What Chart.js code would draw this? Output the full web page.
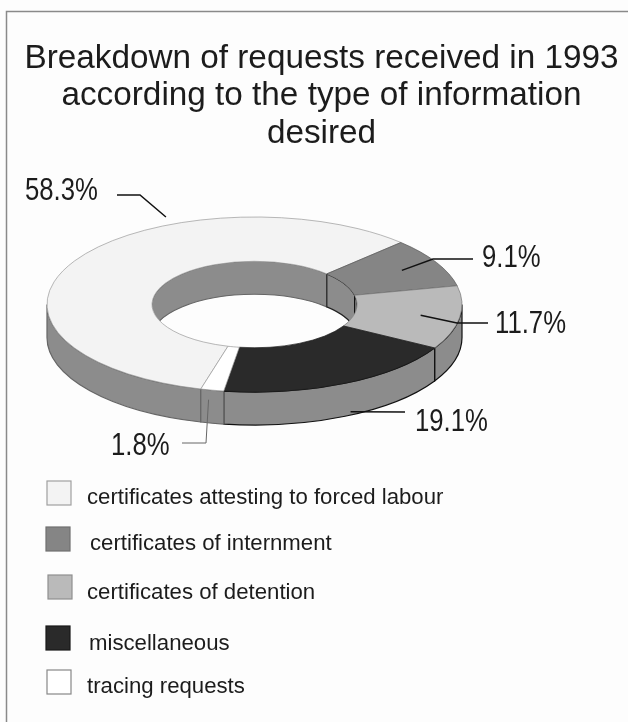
<!DOCTYPE html>
<html>
<head>
<meta charset="utf-8">
<style>
	html, body { margin: 0; padding: 0; background: #fdfdfd; }
	canvas { display: block; }
</style>
<script src="https://cdn.jsdelivr.net/npm/chart.js@4/dist/chart.umd.min.js"></script>
</head>
<body>
<canvas id="chartjs-canvas" width="628" height="722"></canvas>
<script>
const titleLines = ['Breakdown of requests received in 1993', 'according to the type of information', 'desired'];
const categories = ['certificates attesting to forced labour', 'certificates of internment', 'certificates of detention', 'miscellaneous', 'tracing requests'];
const shares = [58.3, 9.1, 11.7, 19.1, 1.8];

const sliceColors = ['#f3f3f3', '#858585', '#bababa', '#2a2a2a', '#ffffff'];
const sliceBorders = ['#9a9a9a', '#555555', '#777777', '#1a1a1a', '#999999'];
const wallBorders = ['#666666', '#222222', '#111111', '#111111', '#666666'];
const swatchBorders = ['#a0a0a0', '#707070', '#909090', '#1a1a1a', '#888888'];
const WALL_COLOR = '#8c8c8c';
const FONT = '"Liberation Sans", Arial, sans-serif';

// where the flattened ring ends up on the page
const ring = { x: 254.5, y: 304.5, squash: 0.4217, depth: 33 };

const legendRows = [
	{ box: [47, 481], text: [87, 504] },
	{ box: [46, 527], text: [90, 550] },
	{ box: [48, 575], text: [87, 599] },
	{ box: [46, 626], text: [89, 650] },
	{ box: [47, 670], text: [87, 693] }
];

// along = fraction of the slice's sweep, radial = fraction of outer radius
const callouts = [
	{ along: 0.676, radial: 1.087, wall: 0, path: [[140, 195], [117, 195]], text: [25, 200], width: 1.5, color: '#111' },
	{ along: 0.5, radial: 0.81, wall: 0, path: [[433, 259], [473, 259]], text: [482, 267], width: 1.5, color: '#111' },
	{ along: 0.5, radial: 0.81, wall: 0, path: [[457, 323], [488, 323]], text: [495, 333], width: 1.5, color: '#111' },
	{ along: 0.46, radial: 0.967, wall: 1, path: [[405, 412]], text: [415, 431], width: 1.5, color: '#111' },
	{ along: 0.46, radial: 1.11, wall: 0, path: [[206, 443], [182, 443]], text: [111, 455], width: 1, color: '#666' }
];

const arcProps = arc => arc.getProps(['x', 'y', 'startAngle', 'endAngle', 'innerRadius', 'outerRadius']);

const wallPath = (ctx, rx, ry, from, to) => {
	ctx.beginPath();
	ctx.ellipse(ring.x, ring.y, rx, ry, 0, from, to);
	ctx.ellipse(ring.x, ring.y + ring.depth, rx, ry, 0, to, from, true);
	ctx.closePath();
};

const drawOuterWalls = (ctx, arcs) => {
	arcs.forEach((arc, i) => {
		const p = arcProps(arc);
		// arc angles run past 2pi once rotated, so test the front half on each turn
		for (let turn = -1; turn <= 1; turn++) {
			const from = Math.max(p.startAngle, turn * 2 * Math.PI);
			const to = Math.min(p.endAngle, turn * 2 * Math.PI + Math.PI);
			if (to <= from) continue;
			wallPath(ctx, p.outerRadius, p.outerRadius * ring.squash, from, to);
			ctx.fillStyle = WALL_COLOR;
			ctx.fill();
			ctx.strokeStyle = wallBorders[i];
			ctx.lineWidth = 1.2;
			ctx.stroke();
		}
	});
};

const drawInnerWalls = (ctx, arcs) => {
	const p0 = arcProps(arcs[0]);
	ctx.save();
	ctx.beginPath();
	ctx.ellipse(ring.x, ring.y, p0.innerRadius, p0.innerRadius * ring.squash, 0, 0, 2 * Math.PI);
	ctx.clip();
	arcs.forEach((arc, i) => {
		const p = arcProps(arc);
		for (let turn = -1; turn <= 1; turn++) {
			const from = Math.max(p.startAngle, turn * 2 * Math.PI + Math.PI);
			const to = Math.min(p.endAngle, turn * 2 * Math.PI + 2 * Math.PI);
			if (to <= from) continue;
			wallPath(ctx, p.innerRadius, p.innerRadius * ring.squash, from, to);
			ctx.fillStyle = WALL_COLOR;
			ctx.fill();
			ctx.strokeStyle = wallBorders[i];
			ctx.lineWidth = 1.2;
			ctx.stroke();
		}
	});
	ctx.restore();
};

const calloutAnchor = (arc, c) => {
	const p = arcProps(arc);
	const angle = p.startAngle + (p.endAngle - p.startAngle) * c.along;
	return [
		ring.x + Math.cos(angle) * p.outerRadius * c.radial,
		ring.y + Math.sin(angle) * p.outerRadius * c.radial * ring.squash + c.wall * ring.depth
	];
};

// the percentages in the scan are set in a narrow cut, so squeeze them
const drawNarrowText = (ctx, text, x, y) => {
	ctx.save();
	ctx.translate(x, y);
	ctx.scale(0.83, 1);
	ctx.fillText(text, 0, 0);
	ctx.restore();
};

const ringPlugin = {
	id: 'ring3d',
	beforeDatasetsDraw(chart) {
		const ctx = chart.ctx;
		const arcs = chart.getDatasetMeta(0).data;
		drawOuterWalls(ctx, arcs);
		drawInnerWalls(ctx, arcs);
		const p = arcProps(arcs[0]);
		ctx.save();
		ctx.translate(ring.x, ring.y);
		ctx.scale(1, ring.squash);
		ctx.translate(-p.x, -p.y);
	},
	afterDatasetsDraw(chart) {
		chart.ctx.restore();
	},
	afterDraw(chart) {
		const ctx = chart.ctx;
		const arcs = chart.getDatasetMeta(0).data;

		ctx.save();
		ctx.strokeStyle = '#8a8a8a';
		ctx.lineWidth = 1.5;
		ctx.beginPath();
		ctx.moveTo(6.5, 722);
		ctx.lineTo(6.5, 11.5);
		ctx.lineTo(628, 11.5);
		ctx.stroke();

		ctx.textBaseline = 'alphabetic';
		ctx.textAlign = 'left';
		callouts.forEach((c, i) => {
			const start = calloutAnchor(arcs[i], c);
			ctx.strokeStyle = c.color;
			ctx.lineWidth = c.width;
			ctx.beginPath();
			ctx.moveTo(start[0], start[1]);
			c.path.forEach(pt => ctx.lineTo(pt[0], pt[1]));
			ctx.stroke();
			ctx.fillStyle = '#1c1c1c';
			ctx.font = '31px ' + FONT;
			drawNarrowText(ctx, shares[i] + '%', c.text[0], c.text[1]);
		});

		categories.forEach((label, i) => {
			const row = legendRows[i];
			ctx.fillStyle = sliceColors[i];
			ctx.fillRect(row.box[0], row.box[1], 24, 24);
			ctx.strokeStyle = swatchBorders[i];
			ctx.lineWidth = 1.2;
			ctx.strokeRect(row.box[0], row.box[1], 24, 24);
			ctx.fillStyle = '#1c1c1c';
			ctx.font = '22.2px ' + FONT;
			ctx.fillText(label, row.text[0], row.text[1]);
		});
		ctx.restore();
	}
};

new Chart(document.getElementById('chartjs-canvas'), {
	type: 'doughnut',
	data: {
		labels: categories,
		datasets: [{
			data: shares,
			backgroundColor: sliceColors,
			borderColor: sliceBorders,
			borderWidth: 1
		}]
	},
	options: {
		responsive: false,
		animation: false,
		rotation: 195,
		cutout: '49.4%',
		layout: { padding: { left: 15, top: 0, right: 0, bottom: 153.5 } },
		plugins: {
			legend: { display: false },
			tooltip: { enabled: false },
			title: {
				display: true,
				text: titleLines,
				color: '#1c1c1c',
				font: { family: FONT, size: 33.3, weight: 'normal', lineHeight: 1.126 },
				padding: { top: 40, bottom: 0 }
			}
		}
	},
	plugins: [ringPlugin]
});
</script>
</body>
</html>
